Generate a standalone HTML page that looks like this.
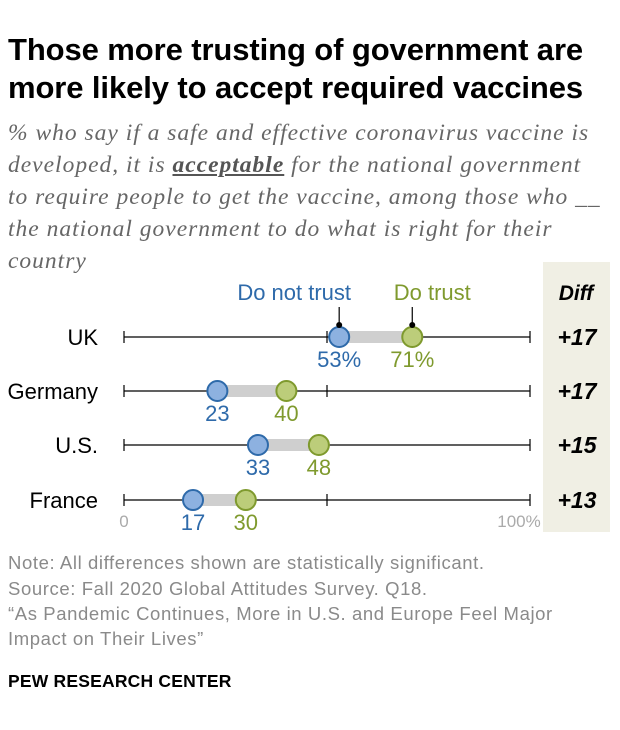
<!DOCTYPE html>
<html><head><meta charset="utf-8"><style>
body{margin:0;background:#fff;font-family:"Liberation Sans",sans-serif;}
#w{position:relative;width:620px;height:730px;overflow:hidden}
h1{position:absolute;left:8px;top:31px;margin:0;font-size:31px;line-height:38px;font-weight:bold;color:#000;letter-spacing:-0.1px}
.sub{position:absolute;left:8px;top:117px;font-family:"Liberation Serif",serif;font-style:italic;font-size:23.5px;line-height:32px;color:#666;width:615px;letter-spacing:1px;white-space:nowrap}
.note{position:absolute;left:8px;font-size:18.5px;color:#8a8a8a;line-height:25px;letter-spacing:0.6px;white-space:nowrap}
</style></head><body><div id="w">
<h1>Those more trusting of government are<br>more likely to accept required vaccines</h1>
<div class="sub">% who say if a safe and effective coronavirus vaccine is<br>developed, it is <b style="text-decoration:underline;color:#555">acceptable</b> for the national government<br>to require people to get the vaccine, among those who __<br>the national government to do what is right for their<br>country</div>
<svg id="c" width="620" height="560" style="position:absolute;left:0;top:0"></svg>
<div class="note" style="top:550px">Note: All differences shown are statistically significant.</div>
<div class="note" style="top:576px">Source: Fall 2020 Global Attitudes Survey. Q18.</div>
<div class="note" style="top:601px">“As Pandemic Continues, More in U.S. and Europe Feel Major<br>Impact on Their Lives”</div>
<div style="position:absolute;left:8px;top:671px;font-size:17.5px;font-weight:bold;color:#000;letter-spacing:0.2px">PEW RESEARCH CENTER</div>
</div>
<script>
const countries=["UK","Germany","U.S.","France"];
const notTrust=[53,23,33,17];
const trust=[71,40,48,30];
const diffs=["+17","+17","+15","+13"];
const rowY=[337,391,445,500];
const NS="http://www.w3.org/2000/svg";
const svg=document.getElementById('c');
const x=v=>124+v*4.06;
function mk(t,a,txt){const e=document.createElementNS(NS,t);for(const k in a)e.setAttribute(k,a[k]);if(txt!=null)e.textContent=txt;svg.appendChild(e);return e;}
let bg=mk('rect',{x:543,y:262,width:67,height:270,fill:'#f0efe4'});


let dh=mk('text',{x:576,y:300,'text-anchor':'middle','font-size':21,'font-weight':'bold','font-style':'italic'},'Diff');


countries.forEach((c,i)=>{
 const y=rowY[i];
 let l=mk('text',{x:98,y:y+8,'text-anchor':'end','font-size':22,fill:'#000'},c);
 
 
 let ax=mk('line',{x1:x(0),x2:x(100),y1:y,y2:y,stroke:'#000','stroke-width':1.2});
 
 
 [0,50,100].forEach(t=>{let tk=mk('line',{x1:x(t),x2:x(t),y1:y-6,y2:y+6,stroke:'#000','stroke-width':1.2});
 
 });
 let b=mk('rect',{x:x(notTrust[i]),y:y-6,width:x(trust[i])-x(notTrust[i]),height:12,fill:'#cfcfcf'});
 
 
 let d1=mk('circle',{cx:x(notTrust[i]),cy:y,r:10,fill:'#8db1e0',stroke:'#2e6aaa','stroke-width':2});
 
 
 let d2=mk('circle',{cx:x(trust[i]),cy:y,r:10,fill:'#bccd7a',stroke:'#7f9a2e','stroke-width':2});
 
 
 const s=i==0?'%':'';
 let v1=mk('text',{x:x(notTrust[i]),y:y+30,'text-anchor':'middle','font-size':22,fill:'#2e6aaa'},notTrust[i]+s);
 
 
 let v2=mk('text',{x:x(trust[i]),y:y+30,'text-anchor':'middle','font-size':22,fill:'#7f9a2e'},trust[i]+s);
 
 
 let df=mk('text',{x:577,y:y+8,'text-anchor':'middle','font-size':23,'font-weight':'bold','font-style':'italic'},diffs[i]);
 
 
 if(i==0){
  [[notTrust[i],'#2e6aaa','Do not trust'],[trust[i],'#7f9a2e','Do trust']].forEach(([v,col,t])=>{
   mk('line',{x1:x(v),x2:x(v),y1:y-30,y2:y-12,stroke:'#000','stroke-width':1.2});
   mk('circle',{cx:x(v),cy:y-12,r:3,fill:'#000'});
   let lg=mk('text',{x:x(v)-(v<60?45:-20),y:y-37,'text-anchor':'middle','font-size':22,fill:col},t);
   
   
  });
 }
});
let t0=mk('text',{x:x(0),y:527,'text-anchor':'middle','font-size':17,fill:'#aaa'},'0');


let t1=mk('text',{x:x(100)-11,y:527,'text-anchor':'middle','font-size':17,fill:'#aaa'},'100%');


</script></body></html>
